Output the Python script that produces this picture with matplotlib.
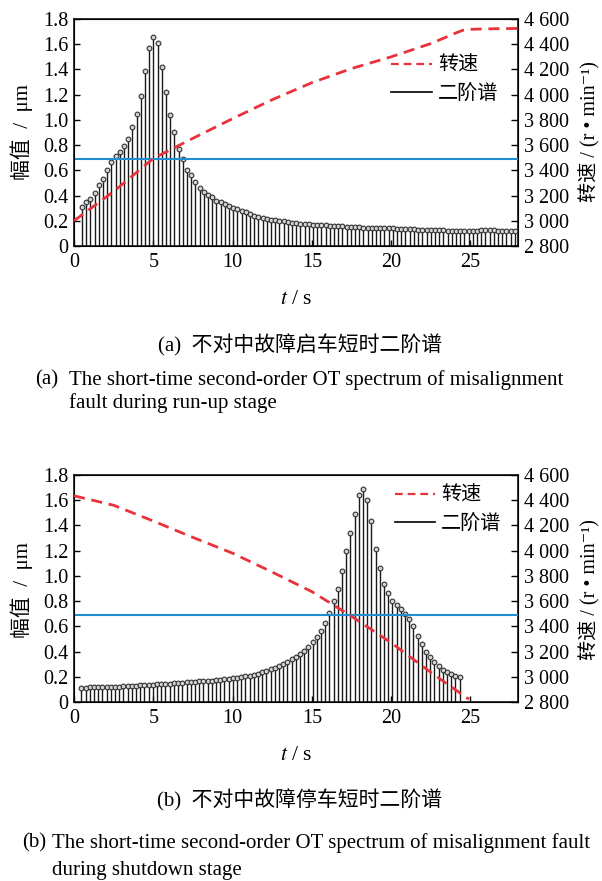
import numpy as np
import matplotlib
matplotlib.use("Agg")
import matplotlib.pyplot as plt
from matplotlib.ticker import FuncFormatter, MultipleLocator
from matplotlib.lines import Line2D

plt.rcParams['font.family'] = ['Liberation Serif', 'Noto Sans CJK SC', 'DejaVu Sans']
plt.rcParams['mathtext.fontset'] = 'stix'
plt.rcParams['font.size'] = 14.5

# 启车阶段二阶谱幅值 (μm)，采样起点 0.5 s，间隔 0.265 s
runup_t0 = 0.5
runup_dt = 0.265
runup_amp = [
    0.31, 0.35, 0.37, 0.42, 0.48, 0.53, 0.60, 0.67, 0.71, 0.745,
    0.795, 0.85, 0.94, 1.05, 1.19, 1.39, 1.57, 1.66, 1.61, 1.42,
    1.22, 1.04, 0.90, 0.77, 0.69, 0.60, 0.56, 0.51, 0.46, 0.43,
    0.405, 0.385, 0.36, 0.345, 0.33, 0.314, 0.30, 0.29, 0.28, 0.27,
    0.25, 0.24, 0.232, 0.225, 0.218, 0.21, 0.205, 0.20, 0.195, 0.19,
    0.186, 0.182, 0.178, 0.175, 0.172, 0.169, 0.167, 0.165, 0.163, 0.161,
    0.159, 0.157, 0.155, 0.153, 0.151, 0.149, 0.147, 0.146, 0.145, 0.144,
    0.143, 0.142, 0.141, 0.140, 0.139, 0.138, 0.137, 0.135, 0.133, 0.131,
    0.130, 0.128, 0.127, 0.126, 0.125, 0.124, 0.123, 0.122, 0.121, 0.120,
    0.119, 0.118, 0.118, 0.119, 0.121, 0.123, 0.125, 0.126, 0.124, 0.122,
    0.120, 0.119, 0.118, 0.118,
]
# 启车转速 (r/min)
runup_speed_t = [0, 2.5, 5, 7.5, 10, 12.5, 15, 17.5, 20, 22.5, 24, 24.5, 25, 26, 28]
runup_speed = [3000, 3232, 3494, 3654, 3810, 3960, 4095, 4207, 4300, 4405, 4485, 4510, 4518, 4522, 4525]

# 停车阶段二阶谱幅值 (μm)，采样起点 0.47 s，间隔 0.265 s
shutdown_t0 = 0.47
shutdown_dt = 0.265
shutdown_amp = [
    0.113, 0.114, 0.115, 0.116, 0.117, 0.118, 0.119, 0.120, 0.121, 0.122,
    0.123, 0.125, 0.127, 0.129, 0.131, 0.133, 0.136, 0.138, 0.140, 0.142,
    0.144, 0.146, 0.148, 0.150, 0.153, 0.156, 0.158, 0.160, 0.163, 0.166,
    0.168, 0.170, 0.174, 0.177, 0.180, 0.184, 0.188, 0.192, 0.197, 0.203,
    0.208, 0.216, 0.224, 0.234, 0.245, 0.258, 0.268, 0.284, 0.300, 0.316,
    0.338, 0.359, 0.384, 0.406, 0.434, 0.474, 0.519, 0.566, 0.624, 0.705,
    0.797, 0.90, 1.037, 1.195, 1.337, 1.487, 1.64, 1.69, 1.605, 1.434,
    1.21, 1.06, 0.937, 0.866, 0.797, 0.766, 0.734, 0.70, 0.66, 0.60,
    0.524, 0.46, 0.40, 0.355, 0.319, 0.287, 0.256, 0.237, 0.219, 0.208,
    0.197,
]
# 停车转速 (r/min)
shutdown_speed_t = [0, 2.5, 5, 7.5, 10, 12.5, 15, 17.5, 20, 22.5, 24.9]
shutdown_speed = [4435, 4360, 4235, 4105, 3980, 3830, 3675, 3480, 3270, 3035, 2822]

threshold = 0.69

W, H = 602, 881


def fx(x):
    return x / W


def fy(y):
    return 1 - y / H


def left_fmt(v, pos):
    return '0' if abs(v) < 1e-9 else f'{v:.1f}'


def right_fmt(v, pos):
    return f'{int(round(v)):,}'.replace(',', ' ')


def draw_panel(fig, top_px, t0, dt, amp, sp_t, sp, legend_top):
    ax = fig.add_axes([fx(74), fy(top_px + 227), fx(444), 227 / H])
    t = t0 + dt * np.arange(len(amp))
    ax.vlines(t, 0, amp, colors='#1a1a1a', lw=1.0, zorder=2)
    ax.plot(t, amp, 'o', ms=3.4, mfc='#d4d4d4', mec='#303030', mew=0.8, zorder=3)
    ax.axhline(threshold, color='#1f8fd3', lw=1.5, zorder=4)
    ax.set_xlim(0, 28)
    ax.set_ylim(0, 1.8)
    ax.xaxis.set_major_locator(MultipleLocator(5))
    ax.yaxis.set_major_locator(MultipleLocator(0.2))
    ax.yaxis.set_major_formatter(FuncFormatter(left_fmt))
    ax.tick_params(direction='in', length=4, width=1, pad=4)
    ax.tick_params(axis='x', pad=5)
    for s in ax.spines.values():
        s.set_linewidth(1.1)

    ax2 = ax.twinx()
    ax2.plot(sp_t, sp, color='#e8333c', lw=2.0, ls=(0, (4.0, 2.4)), zorder=5)
    ax2.set_ylim(2800, 4600)
    ax2.yaxis.set_major_locator(MultipleLocator(200))
    ax2.yaxis.set_major_formatter(FuncFormatter(right_fmt))
    ax2.tick_params(direction='in', length=5, width=1, pad=4)

    handles = [
        Line2D([], [], color='#e8333c', lw=1.6, ls=(0, (3.5, 2.2))),
        Line2D([], [], color='black', lw=1.2),
    ]
    ax2.legend(handles, ['转速', '二阶谱'], loc='upper left',
               bbox_to_anchor=legend_top, frameon=False, borderpad=0,
               borderaxespad=0, handlelength=2.0, handletextpad=0.3,
               labelspacing=0.45, fontsize=14.5)
    return ax


fig = plt.figure(figsize=(W / 100, H / 100), dpi=100)
fig.patch.set_facecolor('white')

draw_panel(fig, 19, runup_t0, runup_dt, runup_amp, runup_speed_t, runup_speed, (0.715, 0.834))
draw_panel(fig, 475, shutdown_t0, shutdown_dt, shutdown_amp, shutdown_speed_t, shutdown_speed, (0.722, 0.949))

# 坐标轴标题
for yc, yt in [(132, 300), (590, 755)]:
    fig.text(fx(22), fy(yc), '幅值  /  μm', rotation=90, ha='center', va='center', fontsize=15)
    fig.text(fx(590), fy(yc), '转速 / (r • min⁻¹)', rotation=90, ha='center', va='center', fontsize=14.5)
    fig.text(fx(296), fy(yt), '$t$ / s', ha='center', va='center', fontsize=15.5)

# 图题
fig.text(fx(300), fy(345), '(a)  不对中故障启车短时二阶谱', ha='center', va='center', fontsize=15)
fig.text(fx(35), fy(380), '(a)', ha='left', va='center', fontsize=15)
fig.text(fx(69), fy(380), 'The short-time second-order OT spectrum of misalignment',
         ha='left', va='center', fontsize=15)
fig.text(fx(69), fy(403), 'fault during run-up stage', ha='left', va='center', fontsize=15)

fig.text(fx(300), fy(800), '(b)  不对中故障停车短时二阶谱', ha='center', va='center', fontsize=15)
fig.text(fx(22), fy(843), '(b)', ha='left', va='center', fontsize=15)
fig.text(fx(52), fy(843), 'The short-time second-order OT spectrum of misalignment fault',
         ha='left', va='center', fontsize=15)
fig.text(fx(52), fy(870), 'during shutdown stage', ha='left', va='center', fontsize=15)

fig.savefig('out.png', dpi=100)
